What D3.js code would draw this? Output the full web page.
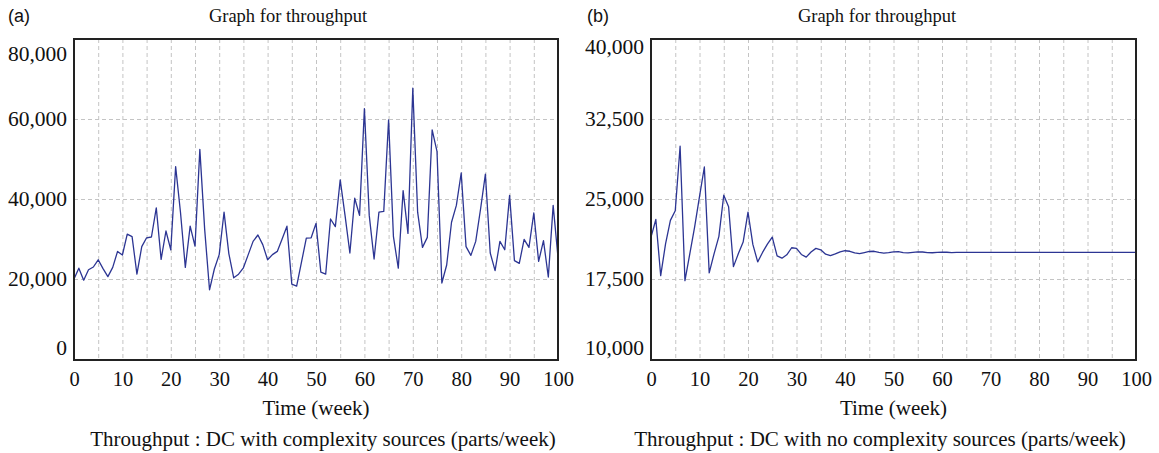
<!DOCTYPE html>
<html>
<head>
<meta charset="utf-8">
<script src="https://cdn.jsdelivr.net/npm/d3@7"></script>
<style>
  body { margin: 0; background: #fff; }
  svg { display: block; }
</style>
</head>
<body>
<svg id="chart" width="1159" height="453"></svg>
<script>
// weekly throughput (parts/week)
const weeks = d3.range(0, 101);

const withComplexity = [
  20000, 22700, 19700, 22300, 23000, 24800, 22600, 20600, 22900, 26900,
  26000, 31200, 30600, 21200, 28100, 30300, 30500, 37800, 24900, 32000,
  27300, 48100, 36700, 22900, 33200, 28200, 52400, 32400, 17300, 22500,
  26100, 36700, 26300, 20300, 21200, 22800, 26100, 29400, 31000, 28600,
  24800, 26100, 26900, 30000, 33200, 18700, 18200, 24200, 30200, 30300,
  33900, 21700, 21200, 35000, 33100, 44800, 35900, 26500, 40200, 35900,
  62600, 35900, 25000, 36700, 36900, 59800, 30600, 22700, 42100, 31400,
  67700, 36700, 27900, 30400, 57300, 51900, 19000, 23500, 34200, 38400,
  46500, 28100, 25900, 29400, 37500, 46200, 26500, 22100, 29400, 27300,
  40900, 24600, 23900, 29900, 27900, 36500, 24400, 29600, 20500, 38400,
  25400
];

const noComplexity = [
  21430, 23080, 17810, 20800, 23000, 23900, 29950, 17340, 19860, 22380,
  25220, 28000, 18070, 19860, 21500, 25350, 24270, 18660, 19860, 20960,
  23770, 20740, 19100, 19990, 20770, 21430, 19670, 19450, 19770, 20430,
  20370, 19800, 19550, 20030, 20370, 20240, 19830, 19700, 19850, 20050,
  20150, 20100, 19950, 19880, 19980, 20080, 20100, 20000, 19920, 19970,
  20050, 20060, 19980, 19940, 19990, 20040, 20030, 19970, 19960, 20000,
  20020, 20010, 19980, 19990, 20000, 20000, 20000, 20000, 20000, 20000,
  20000, 20000, 20000, 20000, 20000, 20000, 20000, 20000, 20000, 20000,
  20000, 20000, 20000, 20000, 20000, 20000, 20000, 20000, 20000, 20000,
  20000, 20000, 20000, 20000, 20000, 20000, 20000, 20000, 20000, 20000,
  20000
];

const xTicks = [0, 10, 20, 30, 40, 50, 60, 70, 80, 90, 100];
const xGrid = [5, 10, 15, 20, 25, 30, 35, 40, 45, 50, 55, 60, 65, 70, 75, 80, 85, 90, 95];
const yTicksA = [0, 20000, 40000, 60000, 80000];
const yTicksB = [10000, 17500, 25000, 32500, 40000];

const svg = d3.select("#chart");
const serif = "'Liberation Serif', 'Times New Roman', serif";
const lineColor = "#2c3593";

function panel(opts) {
  const x = d3.scaleLinear().domain([0, 100]).range([opts.left, opts.right]);
  const y = d3.scaleLinear().domain(opts.yDomain).range([359, 39]);
  const g = svg.append("g");

  // dashed grid
  g.append("g")
    .attr("transform", "translate(0,39)")
    .call(d3.axisBottom(x).tickValues(xGrid).tickSize(320).tickFormat(""))
    .call(s => s.select(".domain").remove())
    .selectAll("line")
    .attr("stroke", "#c4c4c4")
    .attr("stroke-dasharray", "4,3");

  g.append("g")
    .attr("transform", "translate(" + opts.left + ",0)")
    .call(d3.axisRight(y).tickValues(opts.yTicks.slice(1, -1)).tickSize(opts.right - opts.left).tickFormat(""))
    .call(s => s.select(".domain").remove())
    .selectAll("line")
    .attr("stroke", "#c4c4c4")
    .attr("stroke-dasharray", "4,3");

  // series
  const line = d3.line().x((d, i) => x(weeks[i])).y(d => y(d));
  g.append("path")
    .datum(opts.values)
    .attr("fill", "none")
    .attr("stroke", lineColor)
    .attr("stroke-width", 1.3)
    .attr("stroke-linejoin", "round")
    .attr("d", line);

  // frame
  g.append("rect")
    .attr("x", opts.left)
    .attr("y", 39)
    .attr("width", opts.right - opts.left)
    .attr("height", 321)
    .attr("fill", "none")
    .attr("stroke", "#222")
    .attr("stroke-width", 2);

  // y labels (end labels pulled inside the frame like the original)
  const ya = g.append("g")
    .attr("transform", "translate(" + (opts.left - 4) + ",0)")
    .call(d3.axisLeft(y).tickValues(opts.yTicks).tickSize(0).tickPadding(3).tickFormat(d3.format(",")));
  ya.select(".domain").remove();
  ya.selectAll("text")
    .attr("font-family", serif)
    .attr("font-size", 21.5)
    .attr("fill", "#111")
    .attr("dy", (d, i) => i === 0 ? "-0.22em" : (i === opts.yTicks.length - 1 ? (opts.topDy) : "0.32em"));

  // x labels
  const xa = g.append("g")
    .attr("transform", "translate(0,368)")
    .call(d3.axisBottom(x).tickValues(xTicks).tickSize(0).tickPadding(3));
  xa.select(".domain").remove();
  xa.selectAll("text")
    .attr("font-family", serif)
    .attr("font-size", 20.5)
    .attr("fill", "#111");

  g.append("text")
    .attr("x", (opts.left + opts.right) / 2)
    .attr("y", 415)
    .attr("text-anchor", "middle")
    .attr("font-family", serif)
    .attr("font-size", 21)
    .attr("fill", "#111")
    .text("Time (week)");

  g.append("text")
    .attr("x", opts.captionX)
    .attr("y", 446)
    .attr("text-anchor", "middle")
    .attr("font-family", serif)
    .attr("font-size", 21)
    .attr("fill", "#111")
    .text(opts.caption);

  g.append("text")
    .attr("x", opts.titleX)
    .attr("y", 22)
    .attr("text-anchor", "middle")
    .attr("font-family", serif)
    .attr("font-size", 18.5)
    .attr("fill", "#111")
    .text("Graph for throughput");

  g.append("text")
    .attr("x", opts.tagX)
    .attr("y", 22)
    .attr("font-family", "'Liberation Sans', Arial, sans-serif")
    .attr("font-size", 18)
    .attr("fill", "#111")
    .text(opts.tag);
}

panel({
  left: 74, right: 558,
  yDomain: [0, 80000], yTicks: yTicksA, values: withComplexity,
  topDy: "1.0em",
  caption: "Throughput : DC with complexity sources (parts/week)",
  captionX: 323, titleX: 288, tagX: 8, tag: "(a)"
});

panel({
  left: 651, right: 1136,
  yDomain: [10000, 40000], yTicks: yTicksB, values: noComplexity,
  topDy: "0.68em",
  caption: "Throughput : DC with no complexity sources (parts/week)",
  captionX: 880, titleX: 877, tagX: 587, tag: "(b)"
});
</script>
</body>
</html>
